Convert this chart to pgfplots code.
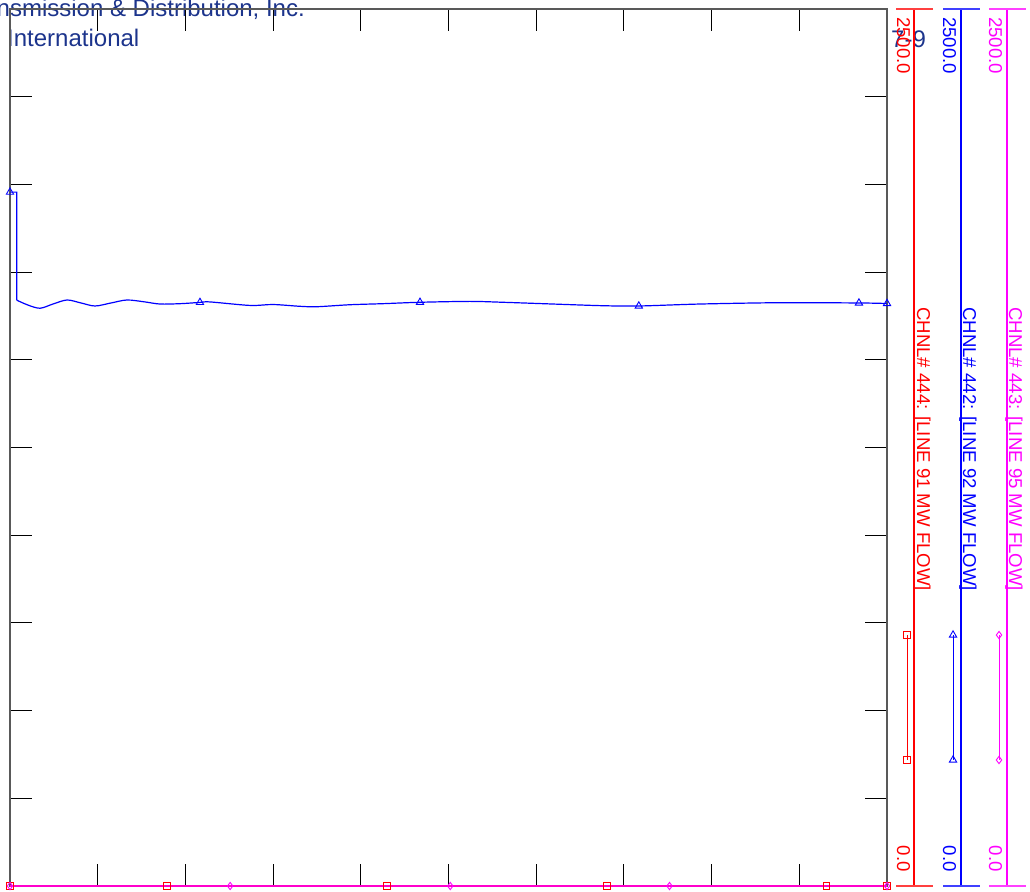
\documentclass[border=0pt]{standalone}
\usepackage{fontspec}
\setmainfont{Liberation Sans}
\usepackage{pgfplots}
\pgfplotsset{compat=1.18}
\definecolor{hdr}{RGB}{28,52,140}
\definecolor{mag}{RGB}{255,0,255}
\definecolor{rd}{RGB}{255,0,0}
\definecolor{bl}{RGB}{0,0,255}
\begin{document}
\begin{tikzpicture}
\path[use as bounding box] (0pt,0pt) rectangle (1030pt,-891pt);
\clip (0pt,0pt) rectangle (1030pt,-891pt);
% header texts
\node[hdr, anchor=base east, inner sep=0pt, font=\fontsize{24}{28}\selectfont] at (305pt,-17pt) {Transmission \& Distribution, Inc.};
\node[hdr, anchor=base west, inner sep=0pt, font=\fontsize{24}{28}\selectfont] at (7pt,-47pt) {International};
\node[hdr, anchor=base west, inner sep=0pt, font=\fontsize{24}{28}\selectfont] at (891pt,-48pt) {7-9};
\begin{axis}[
  at={(10pt,-886pt)}, anchor=south west,
  width=877pt, height=877pt, scale only axis,
  xmin=0, xmax=10, ymin=0, ymax=2500,
  xtick={0,1,...,10}, ytick={0,250,...,2500},
  xticklabels={}, yticklabels={},
  tick align=inside, major tick length=22pt,
  tick style={black, line width=1.1pt},
  axis line style={black!65, line width=1.4pt},
  clip=false,
]
% CHNL 444 (red) at zero
\addplot[rd, line width=1.5pt] coordinates {(0,0) (10,0)};
\addplot[rd, only marks, mark=square, mark size=3.4pt, mark options={line width=0.9pt}] coordinates {(0,0) (1.79,0) (4.30,0) (6.81,0) (9.31,0) (10,0)};
% CHNL 443 (magenta) at zero
\addplot[mag, line width=1.3pt, opacity=0.8] coordinates {(0,0) (10,0)};
\addplot[mag, only marks, mark=diamond, mark size=3.6pt, mark options={line width=0.9pt}] coordinates {(0,0) (2.51,0) (5.02,0) (7.52,0) (10,0)};
% CHNL 442 (blue)
\addplot[bl, line width=1.2pt] coordinates {(0,1978) (0.076,1978) (0.077,1670)};
\addplot[bl, line width=1.2pt, smooth] coordinates {
(0.077,1670) (0.205,1656) (0.342,1647) (0.49,1659) (0.65,1670.5) (0.81,1662) (0.969,1653.4)
(1.152,1662) (1.334,1670.5) (1.539,1665) (1.71,1659) (1.94,1660) (2.166,1663.6) (2.28,1665)
(2.737,1655) (3.0,1657.6) (3.307,1652.5) (3.50,1651.3) (3.877,1657) (4.253,1660) (4.675,1664)
(5.245,1666.5) (5.62,1664) (6.19,1659) (6.76,1654.2) (7.17,1653.4) (7.868,1659) (8.78,1662.8)
(9.68,1662) (10,1660.5)};
\addplot[bl, only marks, mark=triangle, mark size=4.2pt, mark options={line width=0.9pt}] coordinates {(0,1978) (2.166,1663.6) (4.675,1664) (7.17,1653.4) (9.68,1662) (10,1660.5)};
% legend samples
\addplot[rd, line width=0.9pt, mark=square, mark size=3.4pt] coordinates {(10.228,715.5) (10.228,359.2)};
\addplot[bl, line width=0.9pt, mark=triangle, mark size=4.2pt] coordinates {(10.753,715.5) (10.753,359.2)};
\addplot[mag, line width=0.9pt, mark=diamond, mark size=3.6pt] coordinates {(11.277,715.5) (11.277,359.2)};
\end{axis}
% channel scales
\foreach \xl/\col in {914/rd, 961/bl, 1007/mag}{
  \draw[\col, line width=1.1pt] (\xl pt,-9pt) -- (\xl pt,-886pt);
  \draw[\col!75, line width=1.6pt] ({\xl pt-18pt},-9pt) -- ({\xl pt+19pt},-9pt);
  \draw[\col!75, line width=1.6pt] ({\xl pt-18pt},-886pt) -- ({\xl pt+19pt},-886pt);
}
\begin{scope}[every node/.style={inner sep=0pt, rotate=-90, font=\fontsize{18.6}{20}\selectfont}]
\node[rd, anchor=base west] at (897pt,-17pt) {2500.0};
\node[rd, anchor=base east] at (897pt,-872pt) {0.0};
\node[rd, anchor=base west] at (917pt,-307pt) {CHNL\# 444: [LINE 91 MW FLOW]};
\node[bl, anchor=base west] at (943pt,-17pt) {2500.0};
\node[bl, anchor=base east] at (943pt,-872pt) {0.0};
\node[bl, anchor=base west] at (963pt,-307pt) {CHNL\# 442: [LINE 92 MW FLOW]};
\node[mag, anchor=base west] at (989pt,-17pt) {2500.0};
\node[mag, anchor=base east] at (989pt,-872pt) {0.0};
\node[mag, anchor=base west] at (1009pt,-307pt) {CHNL\# 443: [LINE 95 MW FLOW]};
\end{scope}
\end{tikzpicture}
\end{document}
